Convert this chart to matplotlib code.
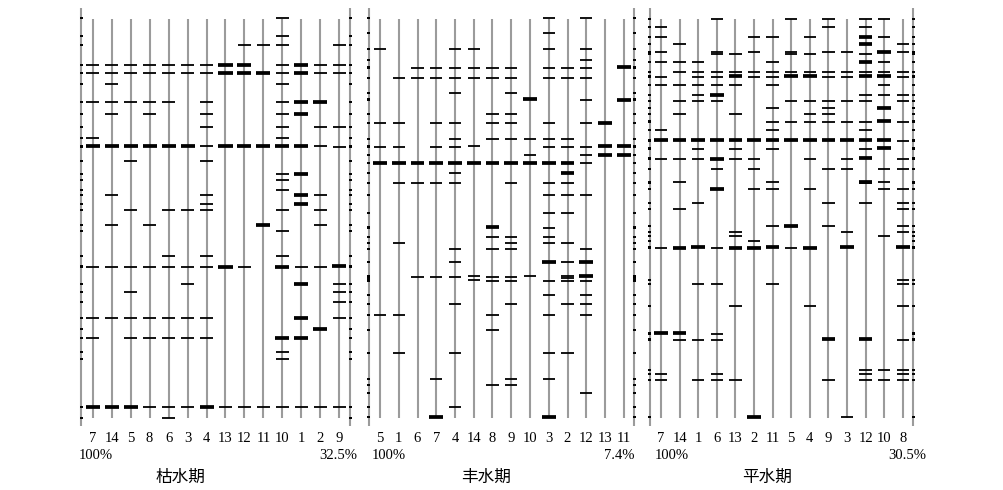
import matplotlib
matplotlib.use("Agg")
import matplotlib.pyplot as plt

# ---------------- data ----------------
titles = ["枯水期", "丰水期", "平水期"]
similarity_left = ["100%", "100%", "100%"]
similarity_right = ["32.5%", "7.4%", "30.5%"]

labels_dry = ["7", "14", "5", "8", "6", "3", "4", "13", "12", "11", "10", "1", "2", "9"]
labels_wet = ["5", "1", "6", "7", "4", "14", "8", "9", "10", "3", "2", "12", "13", "11"]
labels_norm = ["7", "14", "1", "6", "13", "2", "11", "5", "4", "9", "3", "12", "10", "8"]

# band positions (migration distance, top = 0) per lane
bands_dry = [
    [65, 72.7, 101.7, 138.3, 146, 266.7, 318.3, 337.7, 406.7],
    [65, 72.7, 84, 101.7, 114, 146, 195, 224.7, 266.7, 318.3, 406.7],
    [65, 72.7, 101.7, 146, 160.7, 210, 266.7, 292, 318.3, 337.7, 406.7],
    [65, 72.7, 101.7, 114, 146, 224.7, 266.7, 318.3, 337.7, 406.7],
    [65, 72.7, 101.7, 146, 210, 256, 266.7, 318.3, 337.7, 406.7, 418.3],
    [65, 72.7, 146, 210, 266.7, 284, 318.3, 337.7, 406.7],
    [65, 72.7, 101.7, 114, 127.3, 146, 160.7, 195, 203.7, 210, 256, 266.7, 318.3, 337.7, 406.7],
    [65, 72.7, 146, 266.7, 406.7],
    [45, 65, 72.7, 146, 266.7, 406.7],
    [45, 72.7, 146, 224.7, 406.7],
    [18.3, 35.7, 45, 65, 72.7, 84, 101.7, 114, 127.3, 138.3, 146, 173.7, 180.3, 190.3, 210, 231, 256,
     266.7, 337.7, 351.7, 359, 406.7],
    [65, 72.7, 101.7, 114, 146, 173.7, 195, 203.7, 266.7, 284, 318.3, 337.7, 406.7],
    [65, 72.7, 101.7, 127.3, 146, 195, 210, 224.7, 266.7, 329, 406.7],
    [45, 65, 72.7, 127.3, 146.7, 266, 284, 292, 301.7, 318.3, 406.7],
]
strong_dry = [
    [146, 406.7], [146, 406.7], [146, 406.7], [146], [146], [146], [406.7],
    [65, 72.7, 146, 266.7], [65, 72.7, 146], [72.7, 146, 224.7], [146, 266.7, 337.7],
    [65, 72.7, 101.7, 114, 146, 173.7, 195, 203.7, 284, 318.3, 337.7], [101.7, 329], [266],
]

bands_wet = [
    [49.3, 122.7, 146.7, 162.7, 315],
    [78.3, 122.7, 146.7, 162.7, 182.7, 242.7, 315, 353.3],
    [67.7, 78.3, 162.7, 182.7, 276.7],
    [67.7, 78.3, 122.7, 146.7, 162.7, 182.7, 276.7, 379.3, 417.3],
    [49.3, 67.7, 78.3, 93.3, 122.7, 139.3, 146.7, 162.7, 172.7, 182.7, 249, 262.3, 276.7, 304.3, 353.3, 407.3],
    [49.3, 67.7, 78.3, 146, 162.7, 276, 280.3],
    [67.7, 78.3, 114, 122.7, 139.3, 162.7, 227, 236.7, 249, 276.7, 280.7, 315, 329.7, 385],
    [67.7, 78.3, 93.3, 114, 122.7, 139.3, 162.7, 182.7, 236.7, 242.7, 249, 276.7, 280.7, 304.3, 379.3, 385],
    [99.3, 139.3, 155.3, 162.7, 276],
    [18.3, 33.3, 49.3, 67.7, 78.3, 122.7, 139.3, 146.7, 162.7, 182.7, 195, 213.3, 227.7, 236.7, 242.7,
     261.7, 280.7, 295.3, 315, 353.3, 379.3, 417.3],
    [67.7, 78.3, 139.3, 146.7, 162.7, 172.7, 182.7, 195, 213.3, 242.7, 262.3, 276, 278.3, 280.7, 304.3, 353.3],
    [18.3, 49.3, 60, 67.7, 78.3, 100, 122.7, 146.7, 155.3, 162.7, 195, 249, 261.7, 275.7, 280.7, 295.3,
     304.3, 315, 392.7],
    [122.7, 146, 155.3],
    [66.7, 100, 146, 155.3],
]
strong_wet = [
    [162.7], [162.7], [162.7], [162.7, 417.3], [162.7], [162.7], [162.7, 227], [162.7],
    [99.3, 162.7], [162.7, 261.7, 417.3], [162.7, 172.7], [261.7, 275.7],
    [122.7, 146, 155.3], [66.7, 100, 146, 155.3],
]

bands_norm = [
    [26.7, 37.3, 52.3, 62.3, 76.7, 84.7, 130, 140, 159, 247.7, 333.3, 374, 380],
    [44.3, 62.3, 71.7, 84.7, 100.7, 114, 140, 159, 181.7, 209, 247.7, 333.3, 340],
    [62.3, 71.7, 76.7, 84.7, 95, 100.7, 140, 149, 159, 203.3, 247, 284, 340, 380],
    [19, 52.3, 54, 71.7, 76.7, 84.7, 95, 100.7, 140, 159, 168.7, 189, 247.7, 284, 334, 340, 374, 380],
    [54, 71.7, 76, 84.7, 114, 140, 149, 159, 231.7, 236.3, 247.7, 305.7, 380],
    [37.3, 52.3, 71.7, 76.7, 140, 159, 168.7, 189, 241.3, 247.7, 416.7],
    [37.3, 62.3, 71.7, 76.7, 84.7, 108.3, 122, 130, 140, 149, 181.7, 189, 226.3, 247.3, 284],
    [19, 52.3, 54, 71.7, 76, 100.7, 122, 140, 225.7, 247.7],
    [37.3, 54, 71.7, 76, 100.7, 114, 122, 140, 159, 189, 247.7, 305.7],
    [19, 26.7, 52.3, 71.7, 76.7, 100.7, 108.3, 114, 122, 140, 168.7, 203.3, 226.3, 339, 380],
    [52.3, 71.7, 76.7, 100.7, 122, 140, 159, 168.7, 231.7, 247, 416.7],
    [19, 26.7, 36.7, 44.3, 54, 62.3, 71.7, 76, 95, 100.7, 122, 130, 140, 149, 158.3, 181.7, 183.3, 203.3,
     339, 370, 374, 380],
    [19, 37.3, 51.7, 62.3, 71.7, 76, 84.7, 95, 107.7, 121.3, 140, 148.3, 168.7, 181.7, 189, 236.3, 370, 380],
    [44.3, 52.3, 71.7, 76.7, 95, 100.7, 122, 140.7, 159, 168.7, 189, 203.3, 209, 226.3, 231.7, 247, 279.7,
     284, 305.7, 340, 370, 374, 380],
]
strong_norm = [
    [140, 333.3], [140, 247.7, 333.3], [140, 247], [95, 140, 159, 189], [76, 140, 247.7],
    [140, 247.7, 416.7], [140, 247.3], [76, 140, 225.7], [76, 140, 247.7], [140, 339], [140, 247],
    [36.7, 44.3, 62.3, 76, 140, 158.3, 181.7, 339], [51.7, 76, 107.7, 121.3, 140, 148.3], [247],
]

# ---------------- layout ----------------
W, H = 1004, 490
DPI = 100
panel_x0 = [92.7, 380.0, 661.0]      # first lane centre (px)
panel_dx = [18.97, 18.75, 18.6]      # lane spacing (px)
left_txt = [-0.72, -0.44, -0.32]
right_txt = [13.92, 13.6, 14.28]
title_x = [4.65, 5.65, 5.7]
marker_pos = (-0.6, 13.57)

lane_color = "#9b9b9b"
serif = ["Liberation Serif", "DejaVu Serif"]
cjk = ["Noto Sans CJK SC", "DejaVu Sans"]

fig = plt.figure(figsize=(W / DPI, H / DPI), dpi=DPI)
fig.patch.set_facecolor("white")

panels = [
    (labels_dry, bands_dry, strong_dry),
    (labels_wet, bands_wet, strong_wet),
    (labels_norm, bands_norm, strong_norm),
]

for p, (labels, bands, strong) in enumerate(panels):
    x0, dx = panel_x0[p], panel_dx[p]
    left = (x0 - dx) / W
    width = 15 * dx / W
    ax = fig.add_axes([left, 0, width, 1])
    ax.set_xlim(-1, 14)
    ax.set_ylim(H, 0)
    ax.axis("off")
    n = len(labels)

    # lanes
    ax.vlines(range(n), 19, 418, color=lane_color, lw=1.5, zorder=1)
    # marker lanes
    ax.vlines(marker_pos, 8, 426, color=lane_color, lw=1.5, zorder=1)
    all_pos = sorted({y for lane in bands for y in lane})
    for m in marker_pos:
        ax.hlines(all_pos, m - 0.08, m + 0.08, color="black", lw=1.4, zorder=3)

    # bands
    for i, lane in enumerate(bands):
        st = set(strong[i])
        weak = [y for y in lane if y not in st]
        strg = [y for y in lane if y in st]
        ax.hlines(weak, i - 0.33, i + 0.33, color="black", lw=1.3, zorder=2)
        if strg:
            ax.hlines(strg, i - 0.37, i + 0.37, color="black", lw=2.7, zorder=2)

    # lane labels
    for i, lab in enumerate(labels):
        ax.text(i, 438, lab, ha="center", va="center", fontsize=10.5, family=serif)
    ax.text(left_txt[p], 455, similarity_left[p], ha="left", va="center", fontsize=10.5, family=serif)
    ax.text(right_txt[p], 455, similarity_right[p], ha="right", va="center", fontsize=10.5, family=serif)
    ax.text(title_x[p], 477, titles[p], ha="center", va="center", fontsize=12, family=cjk)

fig.savefig("out.png", dpi=DPI)
